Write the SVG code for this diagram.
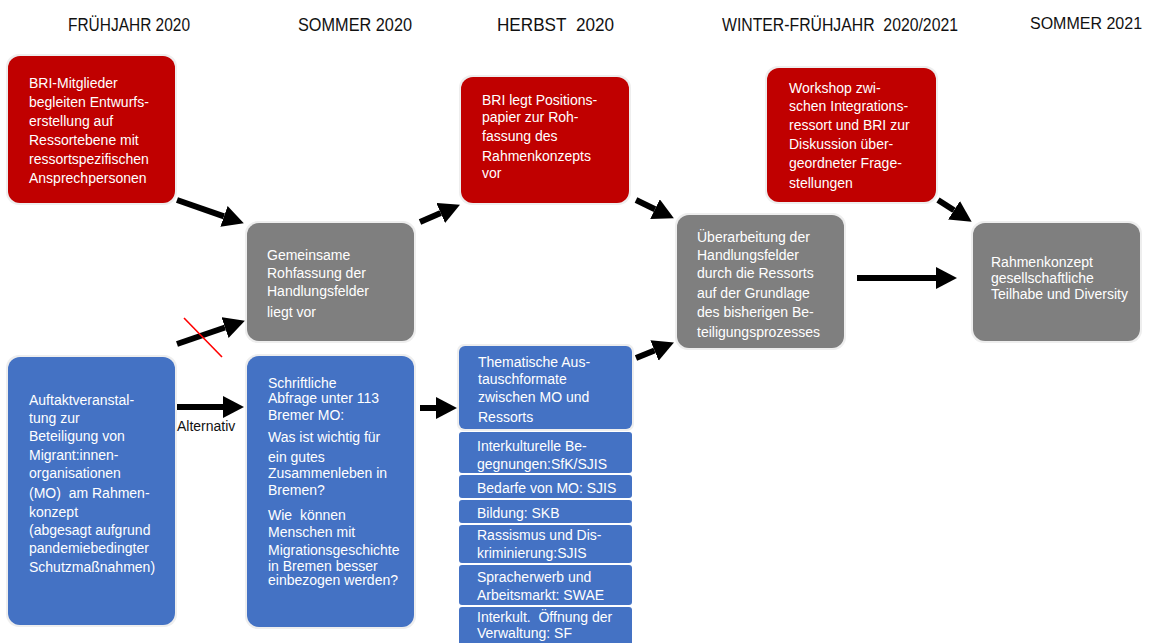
<svg xmlns="http://www.w3.org/2000/svg" width="1150" height="643" viewBox="0 0 1150 643">
<style>
.hdr{font-family:"Liberation Sans",Arial,sans-serif;font-size:18px;fill:#111}
.t{font-family:"Liberation Sans",Arial,sans-serif;font-size:14px;fill:#fff}
.red{fill:#c00000}
.gray{fill:#7f7f7f}
.blue{fill:#4472c4}
.halo{fill:#eeeeee}
.arr{stroke:#000;stroke-width:6;fill:none}
</style>
<defs>
<marker id="ah" markerUnits="userSpaceOnUse" markerWidth="22" markerHeight="24" refX="0" refY="11" orient="auto">
<path d="M0,0 L21,11 L0,22 Z" fill="#000"/>
</marker>
</defs>
<rect width="1150" height="643" fill="#fff"/>
<g id="headers">
<text class="hdr" x="68" y="31" textLength="122" lengthAdjust="spacingAndGlyphs">FRÜHJAHR 2020</text>
<text class="hdr" x="298" y="31" textLength="114" lengthAdjust="spacingAndGlyphs">SOMMER 2020</text>
<text class="hdr" x="497" y="31" textLength="117" lengthAdjust="spacingAndGlyphs">HERBST&#160; 2020</text>
<text class="hdr" x="722" y="31" textLength="236" lengthAdjust="spacingAndGlyphs">WINTER-FRÜHJAHR&#160; 2020/2021</text>
<text x="1030" y="29" font-family="Liberation Sans, Arial, sans-serif" font-size="16" fill="#111">SOMMER 2021</text>
</g>
<g id="bri-begleitung">
<rect class="halo" x="6" y="54" width="171" height="151" rx="13"/>
<rect class="red" x="8" y="56" width="167" height="147" rx="12"/>
<text class="t"><tspan x="29" y="88">BRI-Mitglieder</tspan><tspan x="29" y="107">begleiten Entwurfs-</tspan><tspan x="29" y="126">erstellung auf</tspan><tspan x="29" y="145">Ressortebene mit</tspan><tspan x="29" y="164">ressortspezifischen</tspan><tspan x="29" y="183">Ansprechpersonen</tspan></text>
</g>
<g id="rohfassung">
<rect class="halo" x="245" y="221" width="171" height="122" rx="13"/>
<rect class="gray" x="247" y="223" width="167" height="118" rx="12"/>
<text class="t"><tspan x="267" y="260">Gemeinsame</tspan><tspan x="267" y="278">Rohfassung der</tspan><tspan x="267" y="296">Handlungsfelder</tspan><tspan x="267" y="317">liegt vor</tspan></text>
</g>
<g id="bri-positionspapier">
<rect class="halo" x="459" y="75" width="172" height="130" rx="13"/>
<rect class="red" x="461" y="77" width="168" height="126" rx="12"/>
<text class="t"><tspan x="482" y="105">BRI legt Positions-</tspan><tspan x="482" y="122">papier zur Roh-</tspan><tspan x="482" y="141">fassung des</tspan><tspan x="482" y="161">Rahmenkonzepts</tspan><tspan x="482" y="178">vor</tspan></text>
</g>
<g id="ueberarbeitung">
<rect class="halo" x="675" y="213" width="171" height="137" rx="13"/>
<rect class="gray" x="677" y="215" width="167" height="133" rx="12"/>
<text class="t"><tspan x="697" y="242">Überarbeitung der</tspan><tspan x="697" y="260">Handlungsfelder</tspan><tspan x="697" y="278">durch die Ressorts</tspan><tspan x="697" y="298">auf der Grundlage</tspan><tspan x="697" y="317">des bisherigen Be-</tspan><tspan x="697" y="337">teiligungsprozesses</tspan></text>
</g>
<g id="workshop">
<rect class="halo" x="765" y="66" width="173" height="138" rx="13"/>
<rect class="red" x="767" y="68" width="169" height="134" rx="12"/>
<text class="t"><tspan x="789" y="93">Workshop zwi-</tspan><tspan x="789" y="111">schen Integrations-</tspan><tspan x="789" y="130">ressort und BRI zur</tspan><tspan x="789" y="149">Diskussion über-</tspan><tspan x="789" y="168">geordneter Frage-</tspan><tspan x="789" y="188">stellungen</tspan></text>
</g>
<g id="rahmenkonzept">
<rect class="halo" x="971" y="221" width="171" height="122" rx="13"/>
<rect class="gray" x="973" y="223" width="167" height="118" rx="12"/>
<text class="t"><tspan x="991" y="267">Rahmenkonzept</tspan><tspan x="991" y="283">gesellschaftliche</tspan><tspan x="991" y="299">Teilhabe und Diversity</tspan></text>
</g>
<g id="auftakt">
<rect class="halo" x="6" y="355" width="171" height="272" rx="13"/>
<rect class="blue" x="8" y="357" width="167" height="268" rx="12"/>
<text class="t"><tspan x="29" y="405">Auftaktveranstal-</tspan><tspan x="29" y="423">tung zur</tspan><tspan x="29" y="441">Beteiligung von</tspan><tspan x="29" y="460">Migrant:innen-</tspan><tspan x="29" y="478">organisationen</tspan><tspan x="29" y="498">(MO)&#160; am Rahmen-</tspan><tspan x="29" y="517">konzept</tspan><tspan x="29" y="535">(abgesagt aufgrund</tspan><tspan x="29" y="553">pandemiebedingter</tspan><tspan x="29" y="572">Schutzmaßnahmen)</tspan></text>
</g>
<g id="abfrage">
<rect class="halo" x="245" y="354" width="171" height="275" rx="13"/>
<rect class="blue" x="247" y="356" width="167" height="271" rx="12"/>
<text class="t"><tspan x="268" y="388">Schriftliche</tspan><tspan x="268" y="403">Abfrage unter 113</tspan><tspan x="268" y="420">Bremer MO:</tspan><tspan x="268" y="442">Was ist wichtig für</tspan><tspan x="268" y="462">ein gutes</tspan><tspan x="268" y="478">Zusammenleben in</tspan><tspan x="268" y="495">Bremen?</tspan><tspan x="268" y="520">Wie&#160; können</tspan><tspan x="268" y="537">Menschen mit</tspan><tspan x="268" y="555">Migrationsgeschichte</tspan><tspan x="268" y="571">in Bremen besser</tspan><tspan x="268" y="585">einbezogen werden?</tspan></text>
</g>
<g id="austauschformate">
<rect class="halo" x="457" y="344" width="177" height="87" rx="7"/>
<rect class="blue" x="459" y="346" width="173" height="83" rx="6"/>
<text class="t"><tspan x="478" y="367">Thematische Aus-</tspan><tspan x="478" y="384">tauschformate</tspan><tspan x="478" y="402">zwischen MO und</tspan><tspan x="478" y="422">Ressorts</tspan></text>
</g>
<g id="begegnungen">
<rect class="blue" x="459" y="432" width="173" height="41" rx="3"/>
<text class="t"><tspan x="477" y="451">Interkulturelle Be-</tspan><tspan x="477" y="469">gegnungen:SfK/SJIS</tspan></text>
</g>
<g id="bedarfe">
<rect class="blue" x="459" y="475" width="173" height="23" rx="3"/>
<text class="t" x="477" y="493">Bedarfe von MO: SJIS</text>
</g>
<g id="bildung">
<rect class="blue" x="459" y="500" width="173" height="23" rx="3"/>
<text class="t" x="477" y="518">Bildung: SKB</text>
</g>
<g id="rassismus">
<rect class="blue" x="459" y="525" width="173" height="38" rx="3"/>
<text class="t"><tspan x="477" y="540">Rassismus und Dis-</tspan><tspan x="477" y="558">kriminierung:SJIS</tspan></text>
</g>
<g id="spracherwerb">
<rect class="blue" x="459" y="565" width="173" height="40" rx="3"/>
<text class="t"><tspan x="477" y="582">Spracherwerb und</tspan><tspan x="477" y="600">Arbeitsmarkt: SWAE</tspan></text>
</g>
<g id="verwaltung">
<rect class="blue" x="459" y="607" width="173" height="45" rx="3"/>
<text class="t"><tspan x="477" y="622">Interkult.&#160; Öffnung der</tspan><tspan x="477" y="638">Verwaltung: SF</tspan></text>
</g>
<g id="connectors">
<line class="arr" x1="177" y1="200" x2="224" y2="216.4" marker-end="url(#ah)"/>
<line class="arr" x1="177" y1="344" x2="225" y2="327.5" marker-end="url(#ah)"/>
<line x1="184" y1="318" x2="222" y2="357" stroke="#ff0000" stroke-width="1.6"/>
<line class="arr" x1="177" y1="407" x2="223" y2="407" marker-end="url(#ah)"/>
<text x="177" y="431" font-family="Liberation Sans, Arial, sans-serif" font-size="14" fill="#111">Alternativ</text>
<line class="arr" x1="420" y1="222" x2="440.7" y2="213" marker-end="url(#ah)"/>
<line class="arr" x1="420" y1="408" x2="436" y2="408" marker-end="url(#ah)"/>
<line class="arr" x1="636" y1="200" x2="655" y2="209.2" marker-end="url(#ah)"/>
<line class="arr" x1="636" y1="358" x2="654.5" y2="350.5" marker-end="url(#ah)"/>
<line class="arr" x1="857" y1="278" x2="936" y2="278" marker-end="url(#ah)"/>
<line class="arr" x1="938" y1="200" x2="954" y2="210.3" marker-end="url(#ah)"/>
</g>
</svg>
